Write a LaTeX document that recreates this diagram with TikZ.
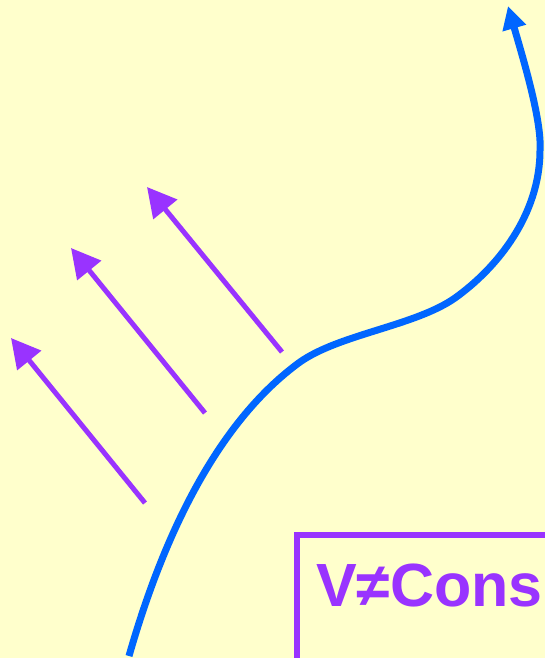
\documentclass[tikz,border=0pt]{standalone}
\usepackage{fontspec}
\setmainfont{Liberation Sans}
\usetikzlibrary{arrows.meta}
\definecolor{bgyellow}{HTML}{FFFFCC}
\definecolor{vpurple}{HTML}{9933FF}
\definecolor{cblue}{HTML}{0066FF}
\tikzset{
  forcearrow/.style={draw=vpurple, line width=5pt, -{Triangle[length=29pt,width=30pt]}, fill=vpurple},
  flowline/.style={draw=cblue, line width=7pt, -{Triangle[length=23pt,width=23pt]}},
  labelbox/.style={draw=vpurple, line width=5.5pt},
  labeltext/.style={text=vpurple, font=\bfseries\fontsize{61}{61}\selectfont, inner sep=0pt, anchor=base west}
}
\begin{document}
\begin{tikzpicture}[x=1pt,y=-1pt]
\fill[bgyellow] (0,0) rectangle (545,658);
\useasboundingbox (0,0) rectangle (545,658);
\clip (0,0) rectangle (545,658);
% flow curve
\coordinate (c0) at (129,656);
\coordinate (c1) at (300,362);
\coordinate (c2) at (455,298);
\coordinate (c3) at (540,150);
\coordinate (ctip) at (508,6);
\draw[flowline] (c0) .. controls (165,530) and (220,420) .. (c1)
  .. controls (340,334) and (415,326) .. (c2)
  .. controls (497,268) and (540,215) .. (c3)
  .. controls (542,120) and (522,55) .. (ctip);
% force arrows
\coordinate (a1s) at (145,503); \coordinate (a1e) at (11,338);
\coordinate (a2s) at (205,413); \coordinate (a2e) at (71,248);
\coordinate (a3s) at (282,352); \coordinate (a3e) at (147,187);
\draw[forcearrow] (a1s) -- (a1e);
\draw[forcearrow] (a2s) -- (a2e);
\draw[forcearrow] (a3s) -- (a3e);
% label box
\coordinate (b1) at (297,535);
\coordinate (b2) at (620,720);
\draw[labelbox] (b1) rectangle (b2);
\node[labeltext] (lbl) at (316,606) {V≠Cons};
\end{tikzpicture}
\end{document}
